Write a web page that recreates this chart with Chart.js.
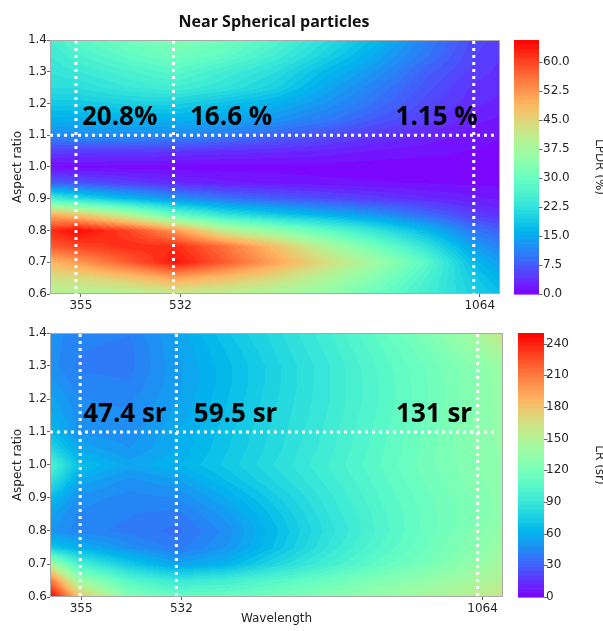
<!DOCTYPE html>
<html>
<head>
<meta charset="utf-8">
<script src="https://cdn.jsdelivr.net/npm/chart.js@4.4.1/dist/chart.umd.min.js"></script>
<style>
html, body { margin: 0; padding: 0; background: #fff; overflow: hidden; }
body { width: 603px; height: 631px; position: relative; }
#title { position: absolute; left: 0; top: 10px; width: 548px; line-height: 16px; text-align: center;
	font: bold 16px "Open Sans", sans-serif; color: #111; z-index: 2; }
canvas { position: absolute; left: 0; }
</style>
</head>
<body>
<div id="title">Near Spherical particles</div>
<canvas id="lpdr_chart" width="606" height="310" style="top:0px"></canvas>
<canvas id="lr_chart" width="606" height="321" style="top:310px"></canvas>
<script>
// grid nodes
var wavelengths = [300, 350, 440, 525, 610, 700, 790, 880, 970, 1055, 1100];
var aspectRatios = [1.4, 1.35, 1.3, 1.25, 1.2, 1.15, 1.1, 1.05, 1.0, 0.95, 0.9, 0.85, 0.8, 0.75, 0.7, 0.65, 0.6];

// LPDR (%) , one row per aspect ratio
var lpdrValues = [
	[25, 28, 31, 33, 31, 27, 22, 17, 11, 6, 5],
	[24, 26, 29, 31, 29, 25, 20, 15, 10, 5.5, 4.5],
	[23, 24, 26, 28, 25, 22, 17, 13, 8, 5, 4],
	[22, 22, 24, 25, 23, 20, 15, 11, 7, 4, 3.5],
	[19, 19, 20, 20, 18, 16, 13, 9.5, 6, 3.5, 3],
	[16, 16, 16, 16, 15, 13, 10.5, 7.5, 5, 2.5, 2],
	[12, 12.5, 12.5, 12, 10.5, 8.5, 6.5, 4.5, 3, 1.5, 1.2],
	[5, 5, 5, 4.5, 4, 3.5, 3, 2, 1.5, 1, 0.8],
	[1, 0.8, 0.6, 0.5, 0.5, 0.5, 0.4, 0.4, 0.3, 0.3, 0.3],
	[8, 7, 5, 3.5, 2.5, 2, 1.5, 1.2, 1, 0.8, 0.8],
	[26, 22, 17, 13, 10, 8, 6.5, 5, 3.5, 2.5, 2],
	[50, 47, 39, 29, 23, 19, 16, 13, 9, 5, 4],
	[62, 65, 60, 52, 41, 35, 29, 23, 17, 10, 8],
	[58, 60, 62, 62, 56, 48, 39, 31, 23, 14, 11],
	[49, 52, 58, 64, 58, 51, 44, 37, 28, 17, 14],
	[43, 44, 47, 51, 48, 44, 39, 33, 26, 19, 16],
	[39, 39, 39, 41, 40, 38, 35, 30, 25, 20, 18]
];

// LR (sr)
var lrValues = [
	[48, 44, 42, 55, 70, 82, 95, 110, 125, 145, 162],
	[48, 42, 40, 54, 67, 80, 93, 107, 121, 137, 150],
	[48, 41, 40, 53, 65, 78, 91, 105, 118, 130, 140],
	[52, 43, 42, 53, 65, 78, 91, 104, 117, 129, 137],
	[56, 46, 45, 54, 66, 79, 91, 104, 117, 129, 136],
	[60, 48, 46, 56, 67, 80, 92, 105, 118, 130, 135],
	[66, 49, 47, 58, 69, 81, 93, 106, 119, 131, 136],
	[80, 57, 50, 59, 70, 82, 94, 107, 119, 130, 134],
	[102, 68, 56, 62, 72, 84, 96, 108, 120, 129, 133],
	[86, 57, 48, 53, 66, 80, 93, 106, 118, 128, 132],
	[66, 48, 44, 46, 58, 74, 90, 104, 116, 126, 132],
	[55, 45, 42, 40, 52, 69, 87, 102, 115, 125, 132],
	[50, 44, 40, 36, 47, 66, 85, 101, 115, 127, 135],
	[72, 60, 48, 40, 50, 68, 88, 104, 117, 130, 140],
	[145, 98, 72, 55, 62, 80, 96, 110, 122, 135, 145],
	[215, 140, 105, 90, 95, 105, 115, 125, 135, 145, 152],
	[255, 185, 128, 115, 115, 120, 128, 136, 145, 155, 162]
];

var wlTicks = [355, 532, 1064];
var ratioTicks = [0.6, 0.7, 0.8, 0.9, 1.0, 1.1, 1.2, 1.3, 1.4];
var lpdrBarTicks = [0, 7.5, 15, 22.5, 30, 37.5, 45, 52.5, 60];
var lrBarTicks = [0, 30, 60, 90, 120, 150, 180, 210, 240];
var lpdrMax = 65.6;
var lrMax = 250;

var markWavelengths = [355, 532, 1064];
var markRatio = 1.1;
var lpdrMarkLabels = ["20.8%", "16.6 %", "1.15 %"];
var lrMarkLabels = ["47.4 sr", "59.5 sr", "131 sr"];

var TXT = '#262626';
var AXFONT = { family: 'DejaVu Sans', size: 12 };

function rainbow(t) {
	t = Math.max(0, Math.min(1, t));
	var r = Math.min(1, Math.abs(2 * t - 0.5));
	var g = Math.sin(Math.PI * t);
	var b = Math.cos(Math.PI * t / 2);
	return [Math.round(r * 255), Math.round(g * 255), Math.round(b * 255)];
}

function gridNodes(values) {
	var pts = [];
	for (var j in aspectRatios) {
		for (var i in wavelengths) {
			pts.push({ x: wavelengths[i], y: aspectRatios[j], v: values[j][i] });
		}
	}
	return pts;
}

function drawHeat(chart, values, vmax) {
	var area = chart.chartArea, xs = chart.scales.x, ys = chart.scales.y;
	var w = Math.round(area.right - area.left), h = Math.round(area.bottom - area.top);
	var off = document.createElement('canvas');
	off.width = w; off.height = h;
	var octx = off.getContext('2d');
	var img = octx.createImageData(w, h);
	var step = vmax / 60;
	for (var py = 0; py < h; py++) {
		var a = ys.getValueForPixel(area.top + py + 0.5);
		var j = 0;
		while (j < aspectRatios.length - 2 && a < aspectRatios[j + 1]) j++;
		var fy = (aspectRatios[j] - a) / (aspectRatios[j] - aspectRatios[j + 1]);
		fy = Math.max(0, Math.min(1, fy));
		for (var px = 0; px < w; px++) {
			var wl = xs.getValueForPixel(area.left + px + 0.5);
			var i = 0;
			while (i < wavelengths.length - 2 && wl > wavelengths[i + 1]) i++;
			var fx = (wl - wavelengths[i]) / (wavelengths[i + 1] - wavelengths[i]);
			fx = Math.max(0, Math.min(1, fx));
			var v = values[j][i] * (1 - fx) * (1 - fy) + values[j][i + 1] * fx * (1 - fy)
				+ values[j + 1][i] * (1 - fx) * fy + values[j + 1][i + 1] * fx * fy;
			var lev = (Math.floor(v / step) + 0.5) * step;
			var c = rainbow(lev / vmax);
			var k = (py * w + px) * 4;
			img.data[k] = c[0]; img.data[k + 1] = c[1]; img.data[k + 2] = c[2]; img.data[k + 3] = 255;
		}
	}
	octx.putImageData(img, 0, 0);
	chart.ctx.drawImage(off, area.left, area.top);
}

function drawColorbar(chart, vmax, gap, bw) {
	var ctx = chart.ctx, cb = chart.scales.cb, area = chart.chartArea;
	var x0 = area.right + gap;
	var n = 60, step = vmax / n;
	for (var k = 0; k < n; k++) {
		var y0 = cb.getPixelForValue(k * step), y1 = cb.getPixelForValue((k + 1) * step);
		var c = rainbow((k + 0.5) / n);
		ctx.fillStyle = 'rgb(' + c.join(',') + ')';
		ctx.fillRect(x0, y1, bw, y0 - y1 + 0.6);
	}
	ctx.strokeStyle = '#444';
	ctx.lineWidth = 0.8;
	cb.ticks.forEach(function(t) {
		var y = Math.round(cb.getPixelForValue(t.value)) + 0.5;
		ctx.beginPath(); ctx.moveTo(x0 + bw, y); ctx.lineTo(x0 + bw + 3.5, y); ctx.stroke();
	});
}

function drawMarks(chart, labels, lineShift, textShift, lineEnd) {
	var ctx = chart.ctx, area = chart.chartArea, xs = chart.scales.x, ys = chart.scales.y;
	ctx.save();
	ctx.strokeStyle = '#aaaaaa';
	ctx.lineWidth = 1;
	ctx.strokeRect(area.left + 0.5, area.top + 0.5, area.right - area.left - 1, area.bottom - area.top - 1);
	ctx.strokeStyle = '#ffffff';
	ctx.lineWidth = 3;
	ctx.setLineDash([3, 4]);
	var yMark = ys.getPixelForValue(markRatio);
	ctx.beginPath(); ctx.moveTo(area.left, yMark); ctx.lineTo(area.right - lineEnd, yMark); ctx.stroke();
	for (var ix in markWavelengths) {
		var xl = xs.getPixelForValue(markWavelengths[ix]) + lineShift[ix];
		ctx.beginPath(); ctx.moveTo(xl, area.top + 1); ctx.lineTo(xl, area.bottom); ctx.stroke();
	}
	ctx.setLineDash([]);
	ctx.fillStyle = '#000';
	ctx.font = 'bold 26px "Open Sans"';
	ctx.textBaseline = 'alphabetic';
	for (var ix in labels) {
		var xt = xs.getPixelForValue(markWavelengths[ix]) + textShift[ix];
		ctx.textAlign = ix == labels.length - 1 ? 'right' : 'left';
		ctx.fillText(labels[ix], xt, yMark - 10);
	}
	ctx.restore();
}

function panelOptions(barTicks, vmax, barTitle, showXTitle, rightWidth, xHeight, padTop, fmtBar) {
	return {
		responsive: false,
		animation: false,
		layout: { padding: { top: padTop, left: 0, right: 0, bottom: 0 } },
		plugins: { legend: { display: false }, tooltip: { enabled: false } },
		scales: {
			x: {
				type: 'linear', min: 300, max: 1100,
				afterBuildTicks: function(s) { s.ticks = wlTicks.map(function(v) { return { value: v }; }); },
				afterFit: function(s) { s.height = xHeight; s.paddingLeft = 0; s.paddingRight = 0; },
				grid: { display: true, drawOnChartArea: false, tickLength: 3, color: '#666' },
				border: { display: false },
				ticks: { padding: 2, font: AXFONT, color: TXT, maxRotation: 0, callback: function(v) { return String(v); } },
				title: { display: showXTitle, text: 'Wavelength', font: AXFONT, color: TXT, padding: { top: 0, bottom: 5 } }
			},
			y: {
				type: 'linear', position: 'left', min: 0.6, max: 1.4,
				afterBuildTicks: function(s) { s.ticks = ratioTicks.map(function(v) { return { value: v }; }); },
				afterFit: function(s) { s.width = 50; s.paddingTop = 0; s.paddingBottom = 0; },
				grid: { display: true, drawOnChartArea: false, tickLength: 3, color: '#666' },
				border: { display: false },
				ticks: { padding: 0, font: AXFONT, color: TXT, callback: function(v) { return v.toFixed(1); } },
				title: { display: true, text: 'Aspect ratio', font: AXFONT, color: TXT, padding: { top: 11, bottom: 0 } }
			},
			cb: {
				type: 'linear', position: 'right', min: 0, max: vmax,
				afterBuildTicks: function(s) { s.ticks = barTicks.map(function(v) { return { value: v }; }); },
				afterFit: function(s) { s.width = rightWidth; s.paddingTop = 0; s.paddingBottom = 0; },
				grid: { display: false, drawTicks: false },
				border: { display: false },
				ticks: { padding: 43, font: AXFONT, color: TXT, callback: fmtBar },
				title: { display: true, text: barTitle, font: AXFONT, color: TXT, padding: { top: 0, bottom: 0 } }
			}
		}
	};
}

var lpdrChart = new Chart(document.getElementById('lpdr_chart'), {
	type: 'scatter',
	data: { datasets: [{ data: gridNodes(lpdrValues), pointRadius: 0, showLine: false }] },
	options: panelOptions(lpdrBarTicks, lpdrMax, 'LPDR (%)', false, 106, 16, 40,
		function(v) { return v.toFixed(1); }),
	plugins: [{
		id: 'lpdrHeat',
		afterDatasetsDraw: function(chart) {
			drawHeat(chart, lpdrValues, lpdrMax);
			drawColorbar(chart, lpdrMax, 14, 25);
			drawMarks(chart, lpdrMarkLabels, [-5, -7, -6], [1, 9.5, -2], 5);
		}
	}]
});

var lrChart = new Chart(document.getElementById('lr_chart'), {
	type: 'scatter',
	data: { datasets: [{ data: gridNodes(lrValues), pointRadius: 0, showLine: false }] },
	options: panelOptions(lrBarTicks, lrMax, 'LR (sr)', true, 103, 34, 23,
		function(v) { return String(v); }),
	plugins: [{
		id: 'lrHeat',
		afterDatasetsDraw: function(chart) {
			drawHeat(chart, lrValues, lrMax);
			drawColorbar(chart, lrMax, 15, 26);
			drawMarks(chart, lrMarkLabels, [-1, -5, -5], [2, 12.5, -10.5], 7);
		}
	}]
});
</script>
</body>
</html>
